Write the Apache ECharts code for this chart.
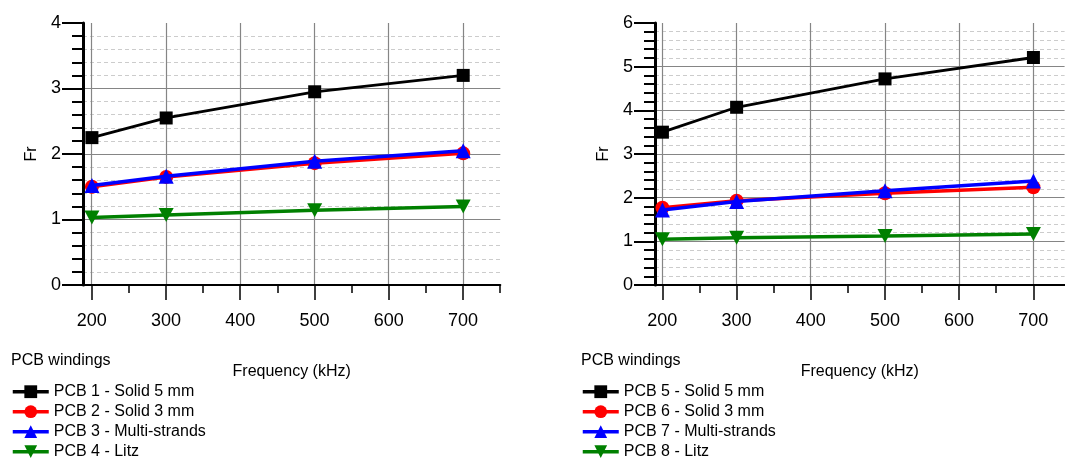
<!DOCTYPE html>
<html>
<head>
<meta charset="utf-8">
<script src="https://cdn.jsdelivr.net/npm/echarts@6/dist/echarts.min.js"></script>
<style>
html,body{margin:0;padding:0;background:#fff;}
#c{width:1065px;height:463px;}
</style>
</head>
<body>
<div id="c"></div>
<script>
// ---- data ----
const freqs = [200, 300, 500, 700];
const leftNames = ['PCB 1 - Solid 5 mm', 'PCB 2 - Solid 3 mm', 'PCB 3 - Multi-strands', 'PCB 4 - Litz'];
const rightNames = ['PCB 5 - Solid 5 mm', 'PCB 6 - Solid 3 mm', 'PCB 7 - Multi-strands', 'PCB 8 - Litz'];
const pcb1 = [2.25, 2.55, 2.95, 3.20];
const pcb2 = [1.50, 1.65, 1.86, 2.01];
const pcb3 = [1.52, 1.66, 1.89, 2.05];
const pcb4 = [1.03, 1.07, 1.14, 1.20];
const pcb5 = [3.50, 4.07, 4.72, 5.21];
const pcb6 = [1.77, 1.93, 2.10, 2.24];
const pcb7 = [1.72, 1.91, 2.16, 2.38];
const pcb8 = [1.05, 1.08, 1.12, 1.17];
const xTickLabels = ['200', '300', '400', '500', '600', '700'];
const legendTitle = 'PCB windings';
const xName = 'Frequency (kHz)';
const yName = 'Fr';

// ---- styles ----
const FONT = 'Liberation Sans, Arial, sans-serif';
const colors = ['#000000', '#ff0000', '#0000ff', '#008000'];
const symbols = ['rect', 'circle', 'triangle', 'path://M0,0 L10,0 L5,9 Z'];
const symSizes = [13, 14, 15, [15, 14]];
const lineWidths = [2.8, 3.5, 3.5, 3.5];

function pairs(vals) { return freqs.map((f, i) => [f, vals[i]]); }

function makeSeries(names, vals, xIdx, yIdx) {
  return names.map((n, k) => ({
    name: n, type: 'line', xAxisIndex: xIdx, yAxisIndex: yIdx,
    data: pairs(vals[k]),
    symbol: symbols[k], symbolSize: symSizes[k],
    lineStyle: { color: colors[k], width: lineWidths[k] },
    itemStyle: { color: colors[k] },
    z: 10 + k, animation: false
  }));
}

function panel(p) {
  const top = 23, height = 262;
  const k = p.pxPer100 / 100;
  const g0 = { left: p.axLeft, top: top, width: (p.xMax - p.xMin) * k, height: height };
  const g1 = { left: p.x200, top: top, width: 500 * k, height: height };
  const g2 = { left: p.x200, top: top, width: (p.minorMax - 200) * k, height: height };
  const grids = [g0, g1, g2];
  const gi = p.gIdx;
  const xAxes = [
    { type: 'value', gridIndex: gi, min: p.xMin, max: p.xMax,
      axisLine: { show: true, onZero: false, lineStyle: { color: '#000', width: 2 } },
      axisTick: { show: false }, axisLabel: { show: false }, splitLine: { show: false },
      name: xName, nameLocation: 'middle', nameGap: 79,
      nameTextStyle: { fontFamily: FONT, fontSize: 16, color: '#000' } },
    { type: 'value', gridIndex: gi + 1, min: 200, max: 700, interval: 100,
      axisLine: { show: false, onZero: false },
      axisTick: { show: true, length: 15, lineStyle: { color: '#000', width: 1.5 } },
      axisLabel: { show: true, margin: 27, fontFamily: FONT, fontSize: 18, color: '#000',
        formatter: v => xTickLabels[Math.round((v - 200) / 100)] },
      splitLine: { show: true, lineStyle: { color: '#858585', width: 1.2 } } },
    { type: 'value', gridIndex: gi + 2, min: 200, max: p.minorMax, interval: 50,
      axisLine: { show: false, onZero: false },
      axisTick: { show: true, length: 8, lineStyle: { color: '#000', width: 1.5 } },
      axisLabel: { show: false }, splitLine: { show: false } }
  ];
  const yAxes = [
    { type: 'value', gridIndex: gi, min: 0, max: p.yMax, interval: 1,
      axisLine: { show: true, onZero: false, lineStyle: { color: '#000', width: 3 } },
      axisTick: { show: true, length: 21, lineStyle: { color: '#000', width: 2 } },
      minorTick: { show: true, splitNumber: 5, length: 11, lineStyle: { color: '#000', width: 2 } },
      axisLabel: { margin: 22, fontFamily: FONT, fontSize: 18, color: '#000' },
      splitLine: { show: true, showMinLine: false, showMaxLine: false, lineStyle: { color: '#858585', width: 1.2 } },
      minorSplitLine: { show: true, lineStyle: { color: '#cccccc', width: 1, type: [4, 3] } },
      name: yName, nameLocation: 'middle', nameGap: 43, nameRotate: 90,
      nameTextStyle: { fontFamily: FONT, fontSize: 16, color: '#000' } },
    { type: 'value', gridIndex: gi + 1, min: 0, max: p.yMax, show: false },
    { type: 'value', gridIndex: gi + 2, min: 0, max: p.yMax, show: false }
  ];
  return { grids, xAxes, yAxes };
}

const L = panel({ axLeft: 83, xMin: 188, xMax: 750, minorMax: 750, pxPer100: 74.26, x200: 91.7, yMax: 4, gIdx: 0 });
const R = panel({ axLeft: 655, xMin: 190, xMax: 742, minorMax: 700, pxPer100: 74.2, x200: 662.3, yMax: 6, gIdx: 3 });

function legendFor(names, left) {
  return {
    orient: 'vertical', left: left, top: 381.7, padding: 0,
    itemWidth: 36, itemHeight: 16, itemGap: 0,
    data: names,
    lineStyle: { width: 3.5 },
    textStyle: { fontFamily: FONT, fontSize: 16, color: '#000', lineHeight: 20 },
    selectedMode: false
  };
}

const option = {
  animation: false,
  backgroundColor: '#fff',
  title: [
    { text: legendTitle, left: 11, top: 353, padding: 0,
      textStyle: { fontFamily: FONT, fontSize: 16, fontWeight: 'normal', color: '#000' } },
    { text: legendTitle, left: 581, top: 353, padding: 0,
      textStyle: { fontFamily: FONT, fontSize: 16, fontWeight: 'normal', color: '#000' } }
  ],
  legend: [legendFor(leftNames, 11), legendFor(rightNames, 581)],
  grid: L.grids.concat(R.grids),
  xAxis: L.xAxes.concat(R.xAxes),
  yAxis: L.yAxes.concat(R.yAxes),
  series: makeSeries(leftNames, [pcb1, pcb2, pcb3, pcb4], 0, 0)
    .concat(makeSeries(rightNames, [pcb5, pcb6, pcb7, pcb8], 3, 3))
};

const chart = echarts.init(document.getElementById('c'), null, { renderer: 'canvas' });
chart.setOption(option);
</script>
</body>
</html>
